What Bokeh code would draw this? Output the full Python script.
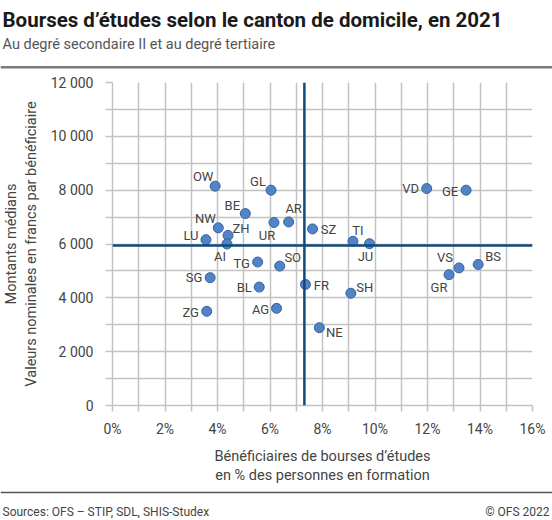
from bokeh.plotting import figure
from bokeh.models import ColumnDataSource, Range1d, FixedTicker, Span
from bokeh.layouts import column
from bokeh.embed import file_html
from bokeh.resources import INLINE
from bokeh.core.properties import value

# ---------------- data ----------------
cantons = ["OW", "GL", "BE", "NW", "ZH", "LU", "AI", "UR", "AR", "SZ", "TG", "SO", "SG",
           "BL", "FR", "ZG", "AG", "TI", "JU", "SH", "NE", "VD", "GE", "VS", "GR", "BS"]
share_pct = [3.91, 6.04, 5.06, 4.03, 4.40, 3.56, 4.36, 6.15, 6.71, 7.62, 5.53, 6.37, 3.72,
             5.59, 7.35, 3.59, 6.25, 9.16, 9.79, 9.08, 7.88, 11.97, 13.47, 13.20, 12.82, 13.93]
median_chf = [8150, 8000, 7130, 6600, 6320, 6160, 6000, 6800, 6820, 6560, 5330, 5180, 4750,
              4400, 4500, 3500, 3610, 6100, 6010, 4170, 2890, 8060, 8000, 5110, 4860, 5240]
swiss_share_pct = 7.31
swiss_median_chf = 5940

x_ticks = list(range(0, 17))
x_tick_labels = ["0%", "", "2%", "", "4%", "", "6%", "", "8%", "", "10%", "", "12%", "",
                 "14%", "", "16%"]
y_ticks = list(range(0, 12001, 1000))
y_tick_labels = ["0", "", "2 000", "", "4 000", "", "6 000", "", "8 000", "", "10 000", "",
                 "12 000"]

title_text = "Bourses d’études selon le canton de domicile, en 2021"
subtitle_text = "Au degré secondaire II et au degré tertiaire"
x_title = "Bénéficiaires de bourses d’études\nen % des personnes en formation"
y_title = "Montants médians\nValeurs nominales en francs par bénéficiaire"
source_text = "Sources: OFS – STIP, SDL, SHIS-Studex"
copyright_text = "© OFS 2022"

# label placement (pixels, style only)
label_dx = {"OW": -12, "GL": -13, "BE": -13, "NW": -13, "ZH": 13, "LU": -15, "AI": -7,
            "UR": -7, "AR": 5, "SZ": 16, "TG": -16, "SO": 13, "SG": -16, "BL": -15,
            "FR": 16, "ZG": -16, "AG": -16, "TI": 5, "JU": -4, "SH": 14, "NE": 15,
            "VD": -16, "GE": -16, "VS": -14, "GR": -10, "BS": 15}
label_dy = {"OW": -10, "GL": -9, "BE": -8, "NW": -9, "ZH": -7, "LU": -4, "AI": 12,
            "UR": 13, "AR": -13, "SZ": 1, "TG": 1, "SO": -9, "SG": 0, "BL": 0,
            "FR": 1, "ZG": 1, "AG": 1, "TI": -11, "JU": 13, "SH": -6, "NE": 5,
            "VD": 0, "GE": 1, "VS": -10, "GR": 13, "BS": -8}

FONT = "Roboto"
GRID = "#c2c2c2"
TXT = "#444444"
W = 552

# ---------------- header ----------------
HH = 70
head = figure(width=W, height=HH, x_range=Range1d(0, W), y_range=Range1d(HH, 0),
              output_backend="svg", toolbar_location=None, min_border=0,
              x_axis_location=None, y_axis_location=None)
head.frame_align = False
head.grid.visible = False
head.outline_line_color = None
head.text(x=[2], y=[19.5], text=[title_text], text_font=value(FONT), text_font_size="20.5px",
          text_font_style="bold", text_color="#1a1a1a", text_baseline="alphabetic",
          text_align="left")
head.text(x=[2], y=[43.5], text=[subtitle_text], text_font=value(FONT),
          text_font_size="14.5px", text_color="#555555", text_baseline="alphabetic",
          text_align="left")
head.segment(x0=[0], y0=[66.7], x1=[W], y1=[66.7], line_color="#7a7a7a", line_width=2.5)

# ---------------- main chart ----------------
MH = 417
p = figure(width=W, height=MH, x_range=Range1d(0, 16), y_range=Range1d(0, 12000),
           output_backend="svg", toolbar_location=None,
           min_border_left=110, min_border_right=20, min_border_top=12, min_border_bottom=80)
p.frame_align = False
p.outline_line_color = None

p.xaxis.ticker = FixedTicker(ticks=x_ticks)
p.xaxis.major_label_overrides = dict(zip(x_ticks, x_tick_labels))
p.yaxis.ticker = FixedTicker(ticks=y_ticks)
p.yaxis.major_label_overrides = dict(zip(y_ticks, y_tick_labels))
p.xgrid.ticker = FixedTicker(ticks=x_ticks)
p.ygrid.ticker = FixedTicker(ticks=y_ticks)
for g in (p.xgrid, p.ygrid):
    g.grid_line_color = GRID
    g.grid_line_width = 1.5
for ax in (p.xaxis, p.yaxis):
    ax.axis_line_color = GRID
    ax.axis_line_width = 1.5
    ax.major_tick_line_color = GRID
    ax.major_tick_line_width = 1.5
    ax.major_tick_in = 0
    ax.minor_tick_line_color = None
    ax.major_label_text_font = FONT
    ax.major_label_text_font_size = "14px"
    ax.major_label_text_color = TXT
    ax.axis_label_text_font = FONT
    ax.axis_label_text_font_size = "14.5px"
    ax.axis_label_text_font_style = "normal"
    ax.axis_label_text_color = TXT
    ax.axis_label_text_line_height = 1.15
p.xaxis.major_tick_out = 6
p.yaxis.major_tick_out = 7
p.xaxis.major_label_standoff = 9
p.yaxis.major_label_standoff = 12
p.xaxis.axis_label = x_title
p.yaxis.axis_label = y_title
p.xaxis.axis_label_standoff = 8
p.yaxis.axis_label_standoff = 8

p.add_layout(Span(location=swiss_share_pct, dimension="height", line_color="#104a7c",
                  line_width=2.5))
p.add_layout(Span(location=swiss_median_chf, dimension="width", line_color="#104a7c",
                  line_width=2.5))

src = ColumnDataSource(dict(
    x=share_pct, y=median_chf, name=cantons,
    dx=[label_dx[c] for c in cantons], dy=[label_dy[c] for c in cantons]))
p.scatter("x", "y", source=src, size=10, fill_color="#5183c6", line_color="#36639f",
          line_width=1)
p.text("x", "y", text="name", source=src, x_offset="dx", y_offset="dy",
       text_font=value(FONT), text_font_size="13px", text_color=TXT,
       text_align="center", text_baseline="middle")

# ---------------- footer ----------------
FH = 520 - HH - MH
foot = figure(width=W, height=FH, x_range=Range1d(0, W), y_range=Range1d(FH, 0),
              output_backend="svg", toolbar_location=None, min_border=0,
              x_axis_location=None, y_axis_location=None)
foot.frame_align = False
foot.grid.visible = False
foot.outline_line_color = None
foot.segment(x0=[0], y0=[5], x1=[W], y1=[5], line_color="#555555", line_width=1.5)
foot.text(x=[2], y=[24.5], text=[source_text], text_font=value(FONT), text_font_size="12px",
          text_color=TXT, text_baseline="middle", text_align="left")
foot.text(x=[549], y=[24.5], text=[copyright_text], text_font=value(FONT),
          text_font_size="12px", text_color=TXT, text_baseline="middle",
          text_align="right")

layout = column(head, p, foot, spacing=0)
open("out.html", "w").write(file_html(layout, INLINE))
